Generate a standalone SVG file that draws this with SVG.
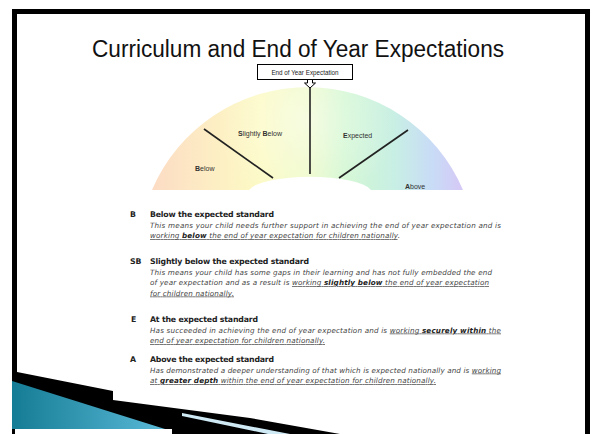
<svg xmlns="http://www.w3.org/2000/svg" width="596" height="434" viewBox="0 0 596 434">
<defs>
<linearGradient id="fan" x1="152" y1="0" x2="463" y2="0" gradientUnits="userSpaceOnUse">
<stop offset="0" stop-color="#fcdcc4"/>
<stop offset="0.2" stop-color="#fdeec4"/>
<stop offset="0.35" stop-color="#fcfac4"/>
<stop offset="0.5" stop-color="#eefac8"/>
<stop offset="0.62" stop-color="#d2f7d2"/>
<stop offset="0.78" stop-color="#c8efe4"/>
<stop offset="0.9" stop-color="#c8dcf6"/>
<stop offset="1" stop-color="#d6c8f6"/>
</linearGradient>
<radialGradient id="glow" cx="307" cy="120" r="90" gradientUnits="userSpaceOnUse">
<stop offset="0" stop-color="#ffffff" stop-opacity="0.45"/>
<stop offset="1" stop-color="#ffffff" stop-opacity="0"/>
</radialGradient>
<linearGradient id="teal" x1="12" y1="0" x2="170" y2="0" gradientUnits="userSpaceOnUse">
<stop offset="0" stop-color="#157c95"/>
<stop offset="1" stop-color="#5cbbd9"/>
</linearGradient>
<style>
.lbl{font-family:"Liberation Sans",Arial,sans-serif;font-size:7px;fill:#333}
.hd{font-family:"DejaVu Sans",Verdana,sans-serif;font-size:7.8px;font-weight:bold;fill:#222}
.it{font-family:"DejaVu Sans",Verdana,sans-serif;font-size:7.2px;font-style:italic;fill:#444}
.u{text-decoration:underline}
.b{font-weight:bold;fill:#222}
.div{stroke:#222;stroke-width:1.6;fill:none}
</style>
</defs>
<rect x="0" y="0" width="596" height="434" fill="#ffffff"/>
<g id="frame">
<rect x="14.5" y="11.5" width="573" height="440" fill="none" stroke="#000" stroke-width="5"/>
</g>
<g id="title">
<text x="298" y="57" text-anchor="middle" font-family="'Liberation Sans',Arial,sans-serif" font-size="23" fill="#111" textLength="412" lengthAdjust="spacingAndGlyphs">Curriculum and End of Year Expectations</text>
</g>
<g id="fan-diagram">
<path d="M152,190 A169,169 0 0 1 463,190 L371,190 A62,16 0 0 0 249,190 Z" fill="url(#fan)"/>
<path d="M152,190 A169,169 0 0 1 463,190 L371,190 A62,16 0 0 0 249,190 Z" fill="url(#glow)"/>
</g>
<g id="connectors">
<line class="div" x1="310" y1="88" x2="310" y2="174"/>
<line class="div" x1="204" y1="129" x2="273" y2="178"/>
<line class="div" x1="408" y1="130" x2="339" y2="178"/>
</g>
<g id="callout">
<rect x="257.5" y="64.5" width="95" height="15" fill="#fff" stroke="#000" stroke-width="1"/>
<text x="305" y="74.5" text-anchor="middle" font-family="'Liberation Sans',Arial,sans-serif" font-size="6.3" fill="#222">End of Year Expectation</text>
<path d="M307.5,80 L307.5,83 L304.5,83 L310,88 L315.5,83 L312.5,83 L312.5,80" fill="#fff" stroke="#000" stroke-width="1"/>
</g>
<g id="node-below"><text class="lbl" x="195" y="171"><tspan font-weight="bold">B</tspan>elow</text></g>
<g id="node-slightly-below"><text class="lbl" x="238" y="136"><tspan font-weight="bold">S</tspan>lightly <tspan font-weight="bold">B</tspan>elow</text></g>
<g id="node-expected"><text class="lbl" x="343" y="138"><tspan font-weight="bold">E</tspan>xpected</text></g>
<g id="node-above"><text class="lbl" x="405" y="189"><tspan font-weight="bold">A</tspan>bove</text></g>

<g id="key-B">
<text class="hd" x="130" y="217">B</text>
<text class="hd" x="150" y="217" textLength="124">Below the expected standard</text>
<text class="it" x="150" y="227.5" textLength="351">This means your child needs further support in achieving the end of year expectation and is</text>
<text class="it" x="150" y="238" textLength="250"><tspan class="u">working <tspan class="b">below</tspan> the end of year expectation for children nationally</tspan>.</text>
</g>
<g id="key-SB">
<text class="hd" x="130" y="264">SB</text>
<text class="hd" x="150" y="264" textLength="159">Slightly below the expected standard</text>
<text class="it" x="150" y="274.5" textLength="342">This means your child has some gaps in their learning and has not fully embedded the end</text>
<text class="it" x="150" y="285" textLength="339">of year expectation and as a result is <tspan class="u">working <tspan class="b">slightly below</tspan> the end of year expectation</tspan></text>
<text class="it" x="150" y="295.5" textLength="84"><tspan class="u">for children nationally.</tspan></text>
</g>
<g id="key-E">
<text class="hd" x="131" y="322">E</text>
<text class="hd" x="150" y="322" textLength="108">At the expected standard</text>
<text class="it" x="150" y="332.5" textLength="351">Has succeeded in achieving the end of year expectation and is <tspan class="u">working <tspan class="b">securely within</tspan> the</tspan></text>
<text class="it" x="150" y="343" textLength="175"><tspan class="u">end of year expectation for children nationally.</tspan></text>
</g>
<g id="key-A">
<text class="hd" x="130" y="362">A</text>
<text class="hd" x="150" y="362" textLength="124">Above the expected standard</text>
<text class="it" x="150" y="372.5" textLength="351">Has demonstrated a deeper understanding of that which is expected nationally and is <tspan class="u">working</tspan></text>
<text class="it" x="150" y="383" textLength="286"><tspan class="u">at <tspan class="b">greater depth</tspan> within the end of year expectation for children nationally.</tspan></text>
</g>

<g id="decoration">
<polygon points="12,371 113,391 113,400 250,418 340,434 165,434 12,382" fill="#000"/>
<polygon points="12,381 165,429 12,429" fill="url(#teal)"/>
<polygon points="182,413 290,434 268,434 182,416" fill="#cfeaf5"/>
<rect x="12" y="429" width="160" height="5" fill="#fff"/>
<rect x="12" y="429" width="3" height="5" fill="#000"/>
</g>
</svg>
